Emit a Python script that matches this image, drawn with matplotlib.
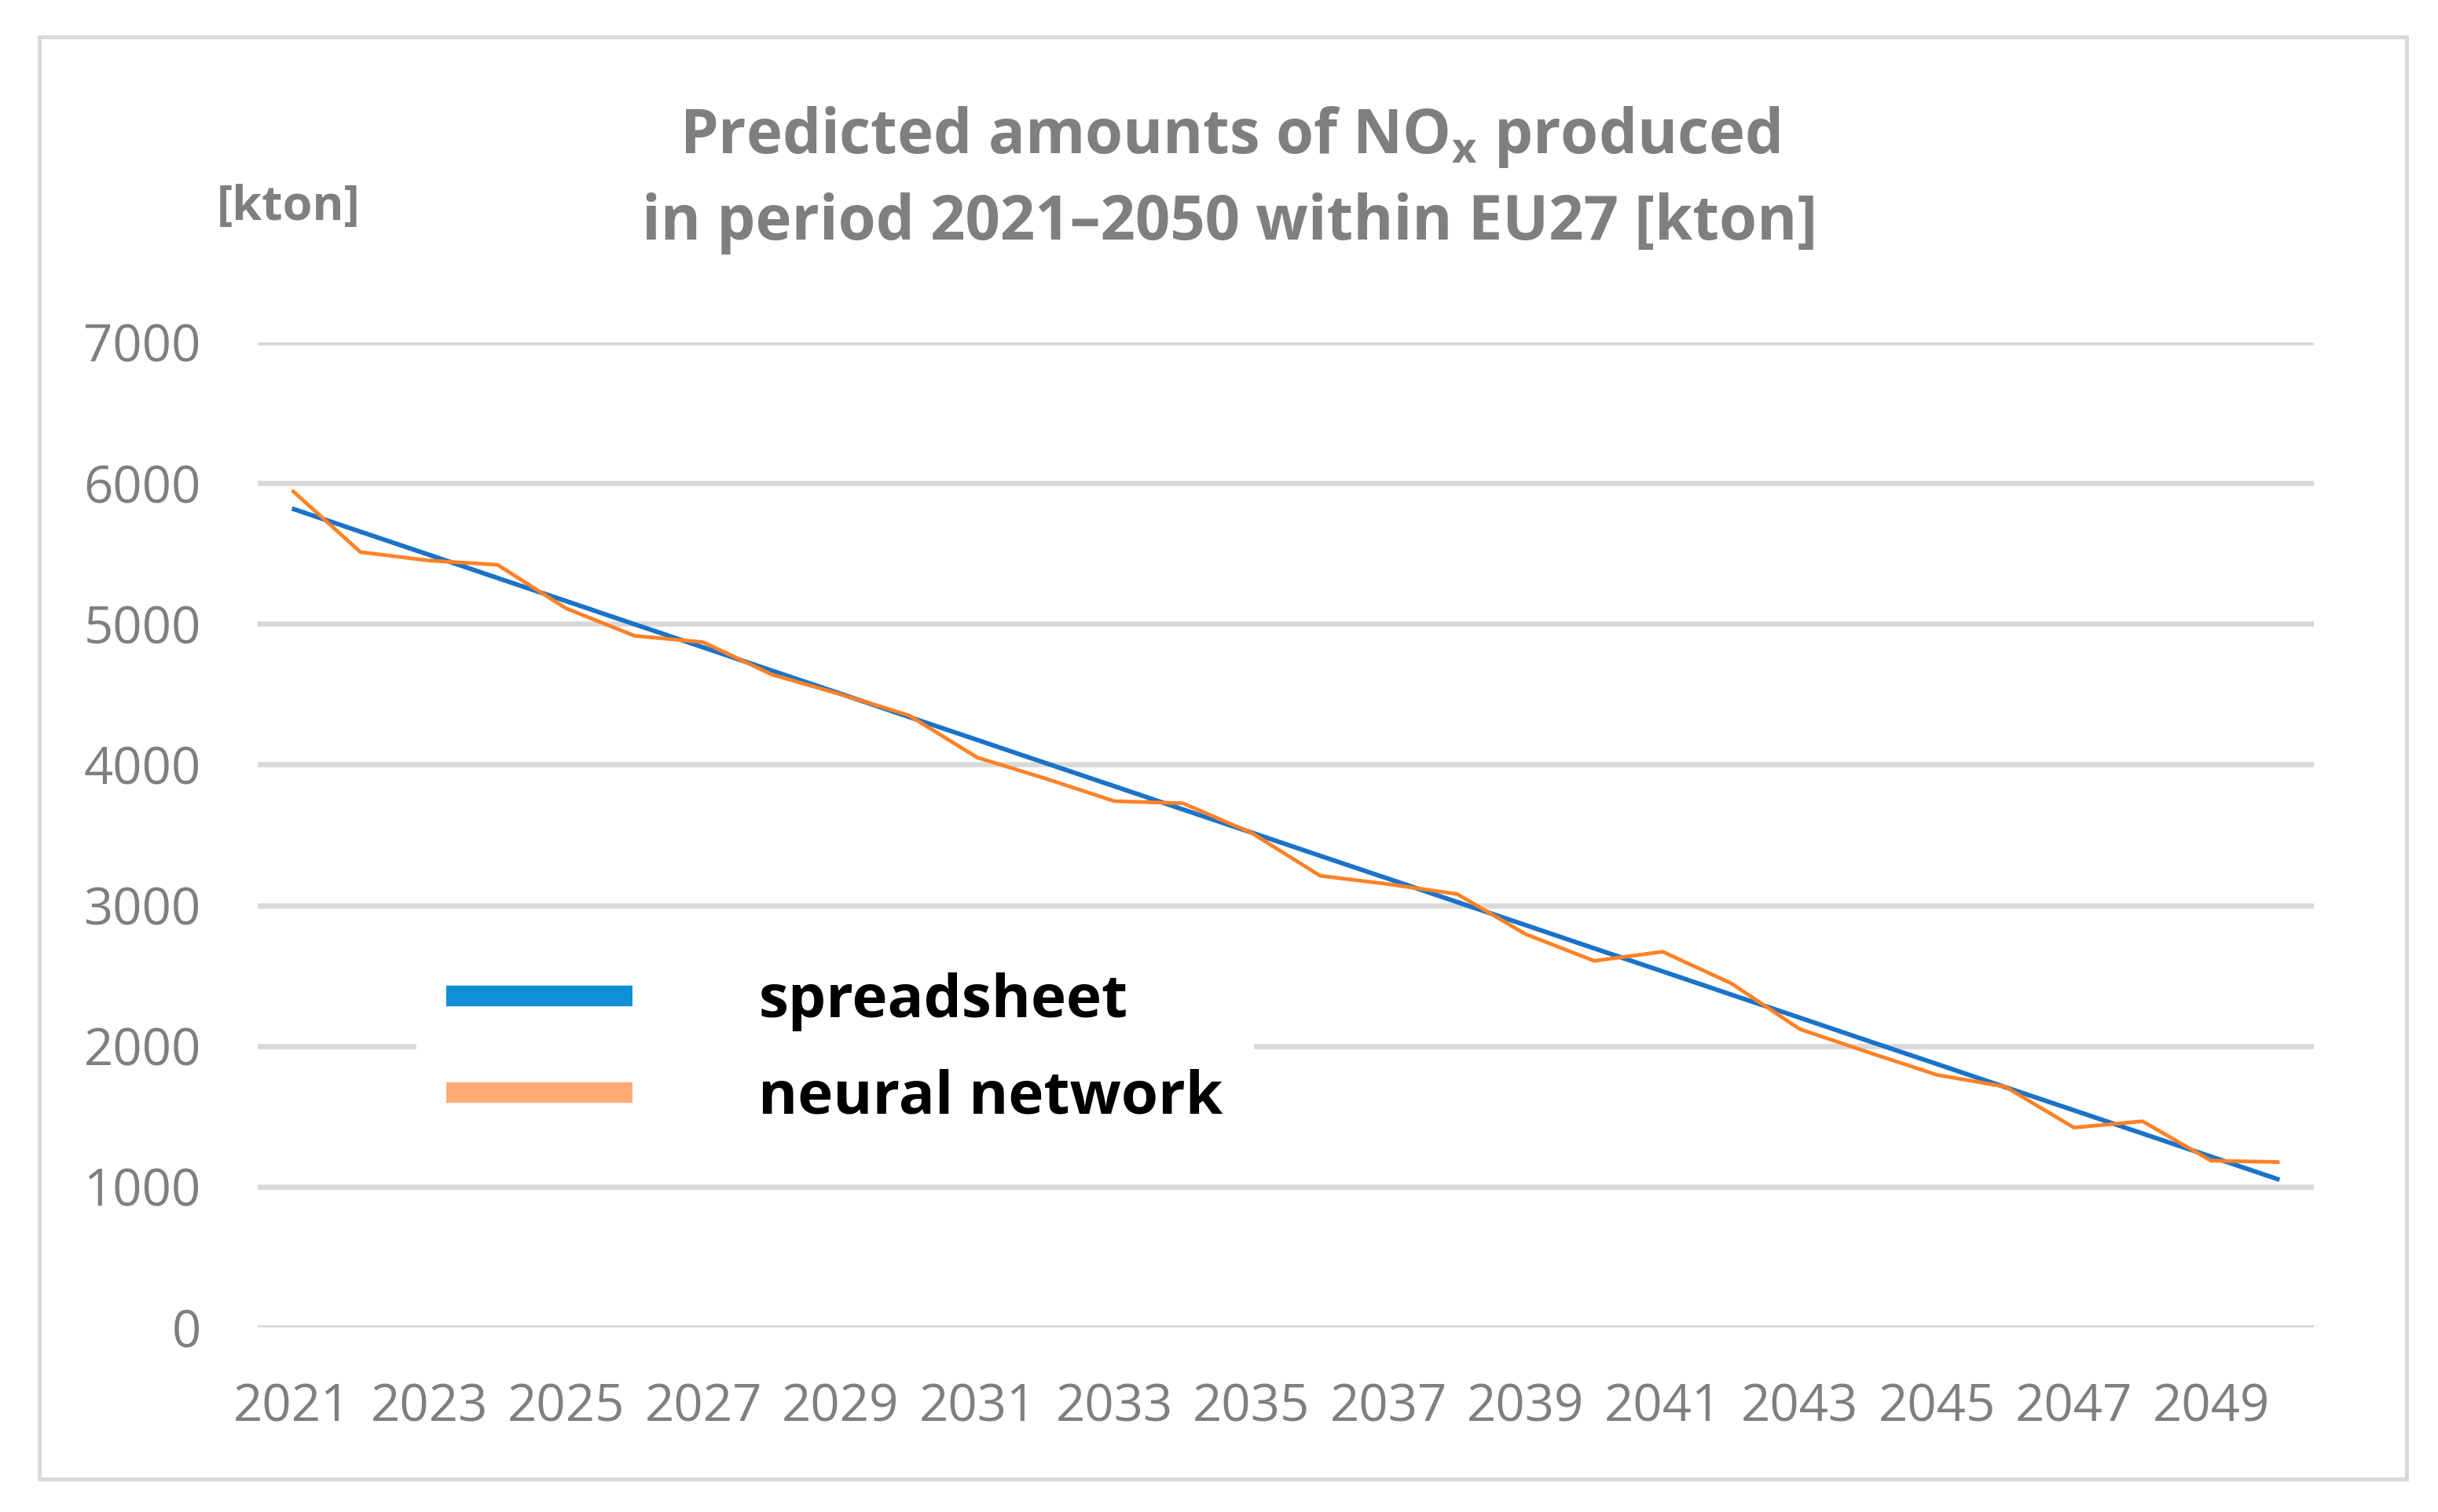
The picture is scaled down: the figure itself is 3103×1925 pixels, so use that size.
import matplotlib
matplotlib.use("Agg")
import matplotlib.pyplot as plt
from matplotlib.lines import Line2D
from matplotlib.patches import Rectangle

years = list(range(2021, 2051))
spreadsheet = [5820, 5655, 5491, 5326, 5162, 4997, 4833, 4668, 4504, 4339,
               4175, 4010, 3846, 3681, 3517, 3352, 3188, 3023, 2859, 2694,
               2530, 2365, 2201, 2036, 1872, 1707, 1543, 1378, 1214, 1049]
neural_network = [5950, 5510, 5450, 5420, 5110, 4915, 4870, 4640, 4500, 4350,
                  4050, 3900, 3740, 3725, 3515, 3210, 3150, 3080, 2795, 2605,
                  2670, 2445, 2120, 1955, 1795, 1710, 1420, 1465, 1185, 1175]
series_names = ["spreadsheet", "neural network"]
y_ticks = [0, 1000, 2000, 3000, 4000, 5000, 6000, 7000]

W, H = 3103, 1925
plt.rcParams['font.family'] = ['Open Sans', 'DejaVu Sans']
plt.rcParams['mathtext.fontset'] = 'custom'
plt.rcParams['mathtext.rm'] = 'Open Sans:bold'

fig = plt.figure(figsize=(W / 100, H / 100), dpi=100)
ax = fig.add_axes([328 / W, 1 - 1690 / H, (2945 - 328) / W, (1690 - 436) / H])

ax.plot(years, spreadsheet, color='#1a73c8', lw=4.2, solid_capstyle='butt')
ax.plot(years, neural_network, color='#ff8125', lw=3.4, solid_capstyle='butt')

ax.set_xlim(2020.5, 2050.5)
ax.set_ylim(0, 7000)
ax.set_xticks(years[::2])
ax.set_xticklabels([str(y) for y in years[::2]])
ax.set_yticks(y_ticks)
ax.set_yticklabels([str(v) for v in y_ticks])
ax.tick_params(length=0, labelsize=47, labelcolor='#7f7f7f')
ax.tick_params(axis='y', pad=52)
ax.tick_params(axis='x', pad=50)
ax.yaxis.grid(True, color='#d9d9d9', lw=4.8)
ax.set_axisbelow(True)
for s in ax.spines.values():
    s.set_visible(False)

# legend (handles drawn thicker and lighter, as in the source image)
handles = [Line2D([], [], color='#0f8fd6', lw=19, solid_capstyle='butt'),
           Line2D([], [], color='#ffaa77', lw=19, solid_capstyle='butt')]
leg = ax.legend(handles, series_names, loc='upper left',
                bbox_to_anchor=(530 / W, 1 - 1200 / H), bbox_transform=fig.transFigure,
                prop={'family': 'Open Sans', 'weight': 'bold', 'size': 55},
                handlelength=3.1, handletextpad=2.1, labelspacing=0.62,
                borderpad=0.5, borderaxespad=0, frameon=True, fancybox=False,
                framealpha=1)
leg.get_frame().set_edgecolor('white')
for t in leg.get_texts():
    t.set_color('black')

# title and unit label
fig.text(1565 / W, 1 - 195 / H, r"Predicted amounts of NO$_{\mathregular{x}}$ produced",
         ha='center', va='baseline', fontsize=56, fontweight='bold', color='#7f7f7f')
fig.text(1565 / W, 1 - 305 / H, "in period 2021\u20132050 within EU27 [kton]",
         ha='center', va='baseline', fontsize=56, fontweight='bold', color='#7f7f7f')
fig.text(276 / W, 1 - 280 / H, "[kton]", ha='left', va='baseline',
         fontsize=44, fontweight='bold', color='#7f7f7f')

# chart border
fig.add_artist(Rectangle((50 / W, 1 - 1883 / H), (3063 - 50) / W, (1883 - 47) / H,
                         transform=fig.transFigure, fill=False,
                         edgecolor='#d9d9d9', lw=3.6))

fig.savefig("out.png", dpi=100, facecolor='white')
